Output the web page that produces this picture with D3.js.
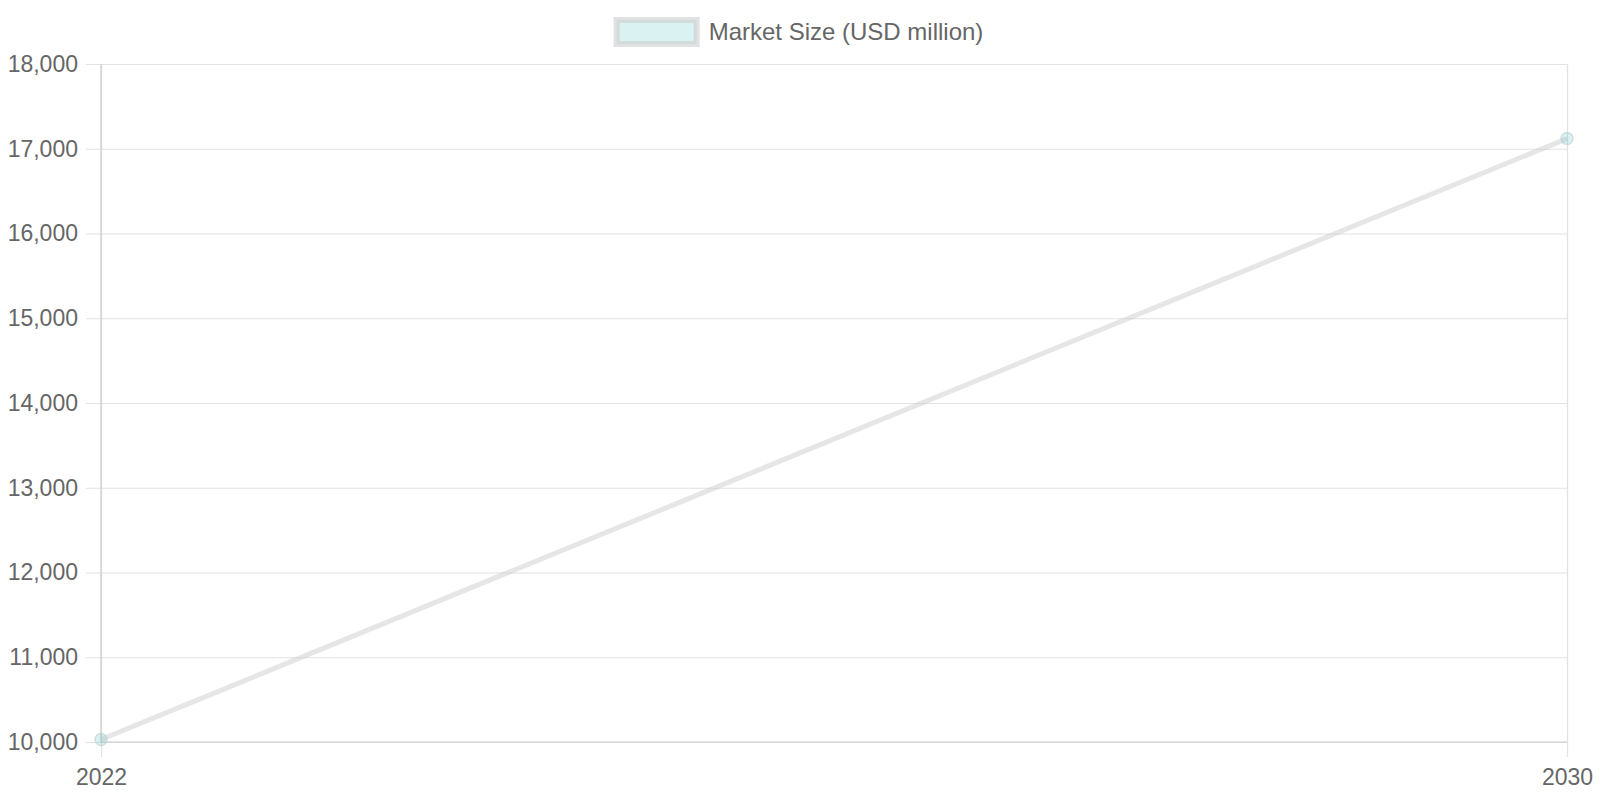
<!DOCTYPE html>
<html>
<head>
<meta charset="utf-8">
<script src="https://cdn.jsdelivr.net/npm/d3@7"></script>
<style>
    body { margin: 0; background: #fff; }
    text { font-family: "Liberation Sans", Arial, Helvetica, sans-serif; fill: #666; }
</style>
</head>
<body>
<div id="graph"></div>
<script>
// chart data
var years = ['2022', '2030'];
var marketSize = [10030, 17120];
var yTicks = [10000, 11000, 12000, 13000, 14000, 15000, 16000, 17000, 18000];
var seriesLabel = 'Market Size (USD million)';

var width = 1600,
    height = 800,
    margin = { top: 64, right: 33, bottom: 58, left: 101 },
    fontSize = 23;

var svg = d3.select('#graph')
    .append('svg')
    .attr('width', width)
    .attr('height', height);

var x = d3.scalePoint()
    .domain(years)
    .range([margin.left, width - margin.right]);

var y = d3.scaleLinear()
    .domain([10000, 18000])
    .range([height - margin.bottom, margin.top]);

var fmt = d3.format(',');

// horizontal grid + y ticks
var yAxis = svg.append('g')
    .attr('transform', 'translate(' + margin.left + ',0)')
    .call(d3.axisLeft(y)
        .tickValues(yTicks)
        .tickSize(-(width - margin.left - margin.right))
        .tickFormat(fmt)
        .tickPadding(23));
yAxis.select('.domain').remove();
yAxis.selectAll('.tick line')
    .attr('x1', -15)
    .attr('stroke', '#e2e2e2')
    .attr('stroke-width', 1.2);
yAxis.selectAll('.tick text')
    .style('font-size', fontSize + 'px')
    .attr('fill', '#666');

// vertical grid + x ticks
var xAxis = svg.append('g')
    .attr('transform', 'translate(0,' + (height - margin.bottom) + ')')
    .call(d3.axisBottom(x)
        .tickSize(15)
        .tickPadding(12));
xAxis.select('.domain').remove();
xAxis.selectAll('.tick line')
    .attr('y1', -(height - margin.top - margin.bottom))
    .attr('stroke', '#e2e2e2')
    .attr('stroke-width', 1.2);
xAxis.selectAll('.tick text')
    .style('font-size', fontSize + 'px')
    .attr('fill', '#666');

// axis lines (slightly darker than grid)
svg.append('line')
    .attr('x1', margin.left).attr('x2', margin.left)
    .attr('y1', margin.top).attr('y2', height - margin.bottom)
    .attr('stroke', '#cccccc').attr('stroke-width', 1.2);
svg.append('line')
    .attr('x1', margin.left).attr('x2', width - margin.right)
    .attr('y1', height - margin.bottom).attr('y2', height - margin.bottom)
    .attr('stroke', '#cccccc').attr('stroke-width', 1.2);

// the line
var data = years.map(function(d, i) { return { year: d, value: marketSize[i] }; });

svg.append('path')
    .datum(data)
    .attr('fill', 'none')
    .attr('stroke', 'rgba(205,205,205,0.5)')
    .attr('stroke-width', 5)
    .attr('d', d3.line()
        .x(function(d) { return x(d.year); })
        .y(function(d) { return y(d.value); }));

svg.selectAll('.dot')
    .data(data)
    .enter()
    .append('circle')
    .attr('class', 'dot')
    .attr('cx', function(d) { return x(d.year); })
    .attr('cy', function(d) { return y(d.value); })
    .attr('r', 6)
    .attr('fill', 'rgba(75,192,192,0.2)')
    .attr('stroke', 'rgba(190,205,205,0.6)')
    .attr('stroke-width', 1.5);

// legend
var legend = svg.append('g');
var legendText = legend.append('text')
    .attr('y', 32)
    .attr('dy', '0.35em')
    .style('font-size', '24px')
    .text(seriesLabel);
var textW = legendText.node().getComputedTextLength();
var boxW = 80, boxH = 24, gap = 12;
var startX = width / 2 - (boxW + gap + textW) / 2;
legend.append('rect')
    .attr('x', startX)
    .attr('y', 32 - boxH / 2)
    .attr('width', boxW)
    .attr('height', boxH)
    .attr('fill', 'rgba(75,192,192,0.2)')
    .attr('stroke', 'rgba(200,200,200,0.55)')
    .attr('stroke-width', 6);
legendText.attr('x', startX + boxW + gap);
</script>
</body>
</html>
